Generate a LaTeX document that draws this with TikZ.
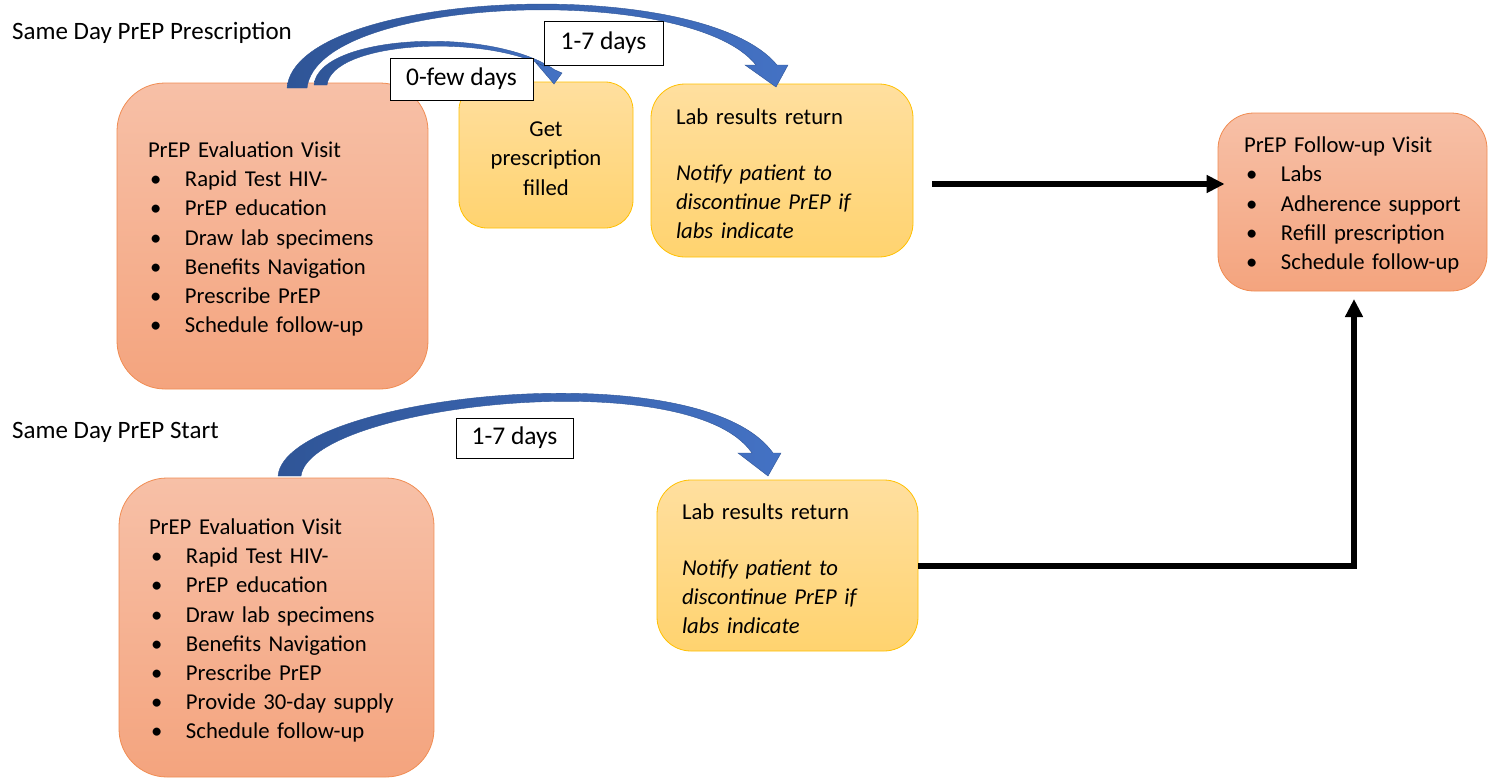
\documentclass[tikz,border=0pt]{standalone}
\usepackage{fontspec}
\setmainfont{Carlito}
\usetikzlibrary{arrows.meta,calc}

\definecolor{visittop}{HTML}{F7C0A7}
\definecolor{visitbot}{HTML}{F4A47E}
\definecolor{visitline}{HTML}{F08C52}
\definecolor{labtop}{HTML}{FFDF9F}
\definecolor{labbot}{HTML}{FFD36F}
\definecolor{labline}{HTML}{FFC000}
\definecolor{arcdark}{HTML}{2F5597}
\definecolor{arclight}{HTML}{4472C4}

% one bulleted line: bullet, then the item text at a fixed indent
\newcommand\bitem[1]{\mbox{\makebox[37pt][l]{\hspace{2pt}\textbullet}#1}}
% extra room above the first line of a box
\newcommand\topgap{\rule{0pt}{22pt}}

\tikzset{
  visit/.style={draw=visitline, line width=0.8pt, top color=visittop, bottom color=visitbot,
    rounded corners=48pt, align=left, inner ysep=0pt},
  labbox/.style={draw=labline, line width=0.8pt, top color=labtop, bottom color=labbot,
    rounded corners=34pt, inner ysep=0pt},
  daytag/.style={draw=black, line width=1pt, fill=white, inner sep=0pt,
    font=\fontsize{25.5pt}{30pt}\selectfont},
  flow/.style={line width=6pt, -{Triangle[length=18pt,width=17pt]}},
  blockarc/.style={left color=arcdark, right color=arclight, draw=arcdark, line width=0.4pt},
  heading/.style={anchor=west, inner sep=0pt, font=\fontsize{25pt}{30pt}\selectfont}
}

\begin{document}
\begin{tikzpicture}[x=1pt, y=-1pt, font=\fontsize{22.7pt}{29.2pt}\selectfont]
\useasboundingbox (0,0) rectangle (1488,779);

% section headings
\node[heading] (h1) at (12,33) {Same Day PrEP Prescription};
\node[heading] (h2) at (12,432) {Same Day PrEP Start};

% upper pathway
\node[visit, text width=249pt, inner xsep=31pt, minimum height=306pt] (eval1) at (272.5,236)
  {\topgap PrEP Evaluation Visit\\
   \bitem{Rapid Test HIV-}\\
   \bitem{PrEP education}\\
   \bitem{Draw lab specimens}\\
   \bitem{Benefits Navigation}\\
   \bitem{Prescribe PrEP}\\
   \bitem{Schedule follow-up}};

\node[labbox, rounded corners=28pt, align=center, text width=154pt, inner xsep=10pt,
  minimum height=146pt] (rx) at (546,155)
  {\topgap Get\\prescription\\filled};

\node[labbox, align=left, text width=212pt, inner xsep=25pt, minimum height=173pt] (lab1) at (782,170.5)
  {\topgap Lab results return\\[27pt]
   \itshape Notify patient to\\discontinue PrEP if\\labs indicate};

% follow-up visit
\node[visit, rounded corners=36pt, text width=217pt, inner xsep=26pt, minimum height=178pt] (fu) at (1352.5,202)
  {\topgap PrEP Follow-up Visit\\
   \bitem{Labs}\\
   \bitem{Adherence support}\\
   \bitem{Refill prescription}\\
   \bitem{Schedule follow-up}};

% lower pathway
\node[visit, text width=255pt, inner xsep=30pt, minimum height=299pt] (eval2) at (276.5,627.5)
  {\topgap PrEP Evaluation Visit\\
   \bitem{Rapid Test HIV-}\\
   \bitem{PrEP education}\\
   \bitem{Draw lab specimens}\\
   \bitem{Benefits Navigation}\\
   \bitem{Prescribe PrEP}\\
   \bitem{Provide 30-day supply}\\
   \bitem{Schedule follow-up}};

\node[labbox, align=left, text width=211pt, inner xsep=25pt, minimum height=171pt] (lab2) at (787.5,565.5)
  {\topgap Lab results return\\[27pt]
   \itshape Notify patient to\\discontinue PrEP if\\labs indicate};

% curved block arrows (tapering bands with a triangular head)
\shadedraw[blockarc] (287,88) .. controls (295,-10) and (700,-28) .. (777,65)
  -- (788,65) -- (776,87) -- (745,65) -- (756,65)
  .. controls (690,-18) and (318,-5) .. (307,88) -- cycle;
\shadedraw[blockarc] (314,85) .. controls (318,35) and (490,25) .. (555,70)
  -- (562,73) -- (554,84) -- (536,63) -- (545,66.5)
  .. controls (480,33) and (332,42) .. (327,85) -- cycle;
\shadedraw[blockarc] (278,476) .. controls (285,395) and (700,350) .. (773,453)
  -- (781,453) -- (768,476) -- (738,453) -- (752,453)
  .. controls (690,362) and (310,405) .. (301,476) -- cycle;

% interval tags
\node[daytag, minimum width=143pt, minimum height=42pt] (d0) at (461.5,79) {0-few days};
\node[daytag, minimum width=119pt, minimum height=44pt] (d1) at (603.5,43) {1-7 days};
\node[daytag, minimum width=117pt, minimum height=40pt] (d2) at (514.5,438) {1-7 days};

% connectors to the follow-up visit
\coordinate (a1s) at (932,184);
\coordinate (a2e) at (1354,299);
\draw[flow] (a1s) -- ([xshift=7pt]a1s -| fu.west);
\draw[flow] (lab2.east) -| (a2e);
\end{tikzpicture}
\end{document}
